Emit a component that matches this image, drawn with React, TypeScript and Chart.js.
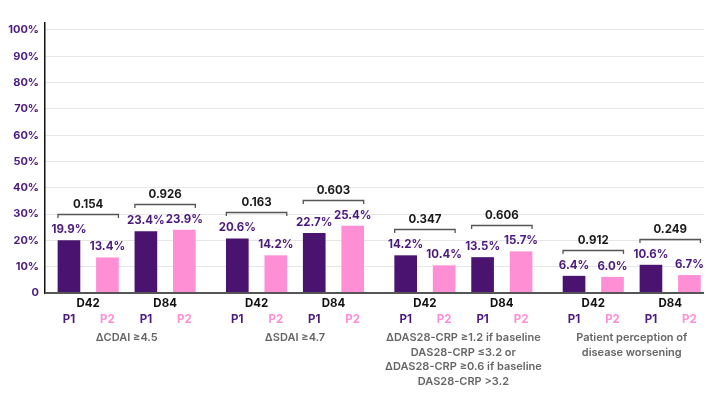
import React, { useEffect, useRef } from "react";
import { Chart, registerables } from "chart.js";

Chart.register(...registerables);

const groupLabels: string[][] = [
  ["ΔCDAI ≥4.5"],
  ["ΔSDAI ≥4.7"],
  [
    "ΔDAS28-CRP ≥1.2 if baseline",
    "DAS28-CRP ≤3.2 or",
    "ΔDAS28-CRP ≥0.6 if baseline",
    "DAS28-CRP >3.2",
  ],
  ["Patient perception of", "disease worsening"],
];
const timepoints = ["D42", "D84"];
const seriesNames = ["P1", "P2"];
const p1Values = [19.9, 23.4, 20.6, 22.7, 14.2, 13.5, 6.4, 10.6];
const p2Values = [13.4, 23.9, 14.2, 25.4, 10.4, 15.7, 6.0, 6.7];
const pValues = ["0.154", "0.926", "0.163", "0.603", "0.347", "0.606", "0.912", "0.249"];
const yTicks = [0, 10, 20, 30, 40, 50, 60, 70, 80, 90, 100];

const P1_COLOR = "#4a136f";
const P2_COLOR = "#ff8fd5";
const TEXT_PURPLE = "#4b1a7d";
const FONT = "Inter, 'Noto Sans', sans-serif";
const GROUP_STEP = 4.377;

// x position (in axis units) of pair i, series s
const xPos = (pair: number, s: number) => {
  const g = Math.floor(pair / 2);
  const t = pair % 2;
  return g * GROUP_STEP + t * 2 + s;
};

const annotationPlugin = {
  id: "annotations",
  afterDatasetsDraw(chart: any) {
    const { ctx, scales } = chart;
    const x = scales.x;
    const y = scales.y;
    const half = 11;
    ctx.save();
    ctx.textAlign = "center";
    ctx.textBaseline = "middle";
    // value labels
    ctx.font = `bold 11.5px ${FONT}`;
    ctx.fillStyle = TEXT_PURPLE;
    [p1Values, p2Values].forEach((vals, s) => {
      vals.forEach((v, i) => {
        const px = x.getPixelForValue(xPos(i, s));
        const py = y.getPixelForValue(v);
        ctx.fillText(v.toFixed(1) + "%", px, py - 11);
      });
    });
    // brackets
    pValues.forEach((p, i) => {
      const m = Math.max(p1Values[i], p2Values[i]);
      const by = Math.round(y.getPixelForValue(m) - 26.5) + 0.5;
      const x1 = x.getPixelForValue(xPos(i, 0)) - half;
      const x2 = x.getPixelForValue(xPos(i, 1)) + half;
      ctx.strokeStyle = "#555";
      ctx.lineWidth = 1.3;
      ctx.beginPath();
      ctx.moveTo(x1, by + 3.5);
      ctx.lineTo(x1, by);
      ctx.lineTo(x2, by);
      ctx.lineTo(x2, by + 3.5);
      ctx.stroke();
      ctx.fillStyle = "#1a1a1a";
      ctx.font = `bold 11.5px ${FONT}`;
      ctx.fillText(p, (x1 + x2) / 2, by - 10);
    });
    // bottom axis line
    const base = y.getPixelForValue(0);
    ctx.strokeStyle = "#555";
    ctx.lineWidth = 2;
    ctx.beginPath();
    ctx.moveTo(chart.chartArea.left, base);
    ctx.lineTo(chart.chartArea.right, base);
    ctx.stroke();
    // x labels
    pValues.forEach((_, i) => {
      const c = (x.getPixelForValue(xPos(i, 0)) + x.getPixelForValue(xPos(i, 1))) / 2;
      ctx.fillStyle = "#111";
      ctx.font = `bold 11.5px ${FONT}`;
      ctx.fillText(timepoints[i % 2], c, base + 11);
      seriesNames.forEach((n, s) => {
        ctx.fillStyle = s === 0 ? TEXT_PURPLE : P2_COLOR;
        ctx.fillText(n, x.getPixelForValue(xPos(i, s)), base + 27);
      });
    });
    groupLabels.forEach((lines, g) => {
      const c = (x.getPixelForValue(xPos(g * 2, 0)) + x.getPixelForValue(xPos(g * 2 + 1, 1))) / 2;
      ctx.fillStyle = "#666";
      ctx.font = `600 11px ${FONT}`;
      lines.forEach((l, k) => {
        ctx.fillText(l, c, base + 45 + k * 14.5);
      });
    });
    ctx.restore();
  },
};

export default function App() {
  const ref = useRef<HTMLCanvasElement>(null);
  useEffect(() => {
    if (!ref.current) return;
    const chart = new Chart(ref.current, {
      type: "bar",
      data: {
        datasets: [
          {
            label: seriesNames[0],
            data: p1Values.map((v, i) => ({ x: xPos(i, 0), y: v })),
            backgroundColor: P1_COLOR,
            barThickness: 22,
            grouped: false,
          },
          {
            label: seriesNames[1],
            data: p2Values.map((v, i) => ({ x: xPos(i, 1), y: v })),
            backgroundColor: P2_COLOR,
            barThickness: 22,
            grouped: false,
          },
        ],
      },
      options: {
        animation: false,
        responsive: true,
        maintainAspectRatio: false,
        layout: { padding: { top: 23, right: 15, bottom: 103, left: 0 } },
        plugins: { legend: { display: false }, tooltip: { enabled: false } },
        scales: {
          x: {
            type: "linear",
            display: false,
            offset: false,
            min: -0.623,
            max: 16.51,
          },
          y: {
            min: 0,
            max: 102.66,
            afterBuildTicks: (axis: any) => {
              axis.ticks = yTicks.map((v) => ({ value: v }));
            },
            afterFit: (axis: any) => {
              axis.width = 45;
            },
            border: { display: true, color: "#111", width: 1.5 },
            grid: { color: "#e6e6e6", lineWidth: 1, drawTicks: false },
            ticks: {
              padding: 6,
              color: TEXT_PURPLE,
              font: { family: FONT, weight: "bold", size: 11 },
              callback: (v: any) => (v === 0 ? "0" : v + "%"),
            },
          },
        },
      },
      plugins: [annotationPlugin],
    });
    return () => chart.destroy();
  }, []);
  return (
    <div style={{ position: "fixed", left: 0, top: 0, width: 719, height: 396, background: "#fff" }}>
      <canvas ref={ref} />
    </div>
  );
}
